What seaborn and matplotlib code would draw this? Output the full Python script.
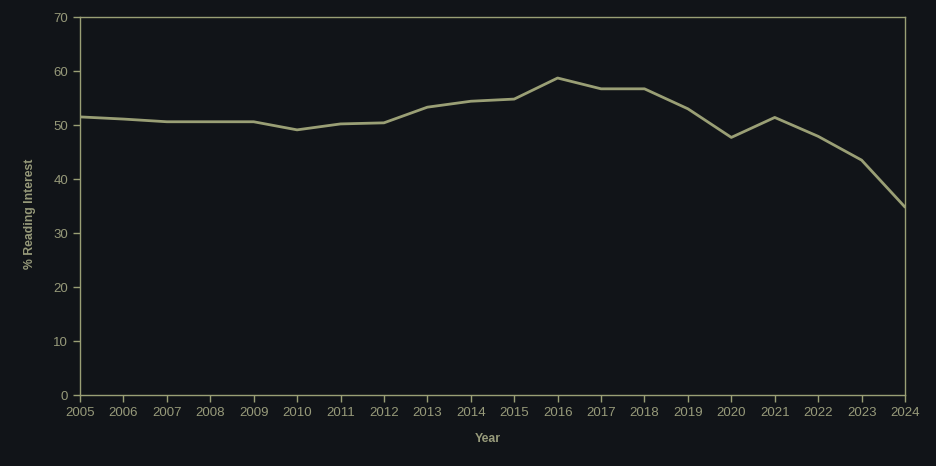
import matplotlib
matplotlib.use("Agg")
import matplotlib.pyplot as plt
import seaborn as sns
import pandas as pd

# Datos
years = list(range(2005, 2025))
interest = [51.5, 51.1, 50.6, 50.6, 50.6, 49.1, 50.2, 50.4, 53.3, 54.4,
            54.8, 58.7, 56.7, 56.7, 53.0, 47.7, 51.4, 47.9, 43.5, 34.8]

bg = "#111418"
fg = "#9a9f75"
txt = "#979a7a"

sns.set_style("dark")
plt.rcParams["font.family"] = ["Liberation Sans", "DejaVu Sans"]

df = pd.DataFrame({"Year": years, "Interest": interest})

fig = plt.figure(figsize=(9.37, 4.66), dpi=100, facecolor=bg)
ax = fig.add_axes([80 / 937, 71 / 466, 825 / 937, 378 / 466])
ax.set_facecolor(bg)

sns.lineplot(data=df, x="Year", y="Interest", ax=ax, color=fg, linewidth=2)

ax.set_xlim(2005, 2024)
ax.set_ylim(0, 70)
ax.set_xticks(years)
ax.set_yticks(range(0, 71, 10))
ax.grid(False)

for s in ax.spines.values():
    s.set_color(fg)
    s.set_linewidth(1)
    s.set_visible(True)

ax.tick_params(axis="both", colors=fg, labelcolor=txt, labelsize=9.5,
               length=5, width=1, direction="out", bottom=True, left=True)
ax.set_xlabel("Year", color=txt, fontsize=8.8, fontweight="bold")
ax.set_ylabel("% Reading Interest", color=txt, fontsize=8.8, fontweight="bold")
ax.xaxis.set_label_coords(0.4945, -0.1)
ax.yaxis.set_label_coords(-0.053, 0.479)

fig.savefig("out.png", dpi=100, facecolor=bg)
